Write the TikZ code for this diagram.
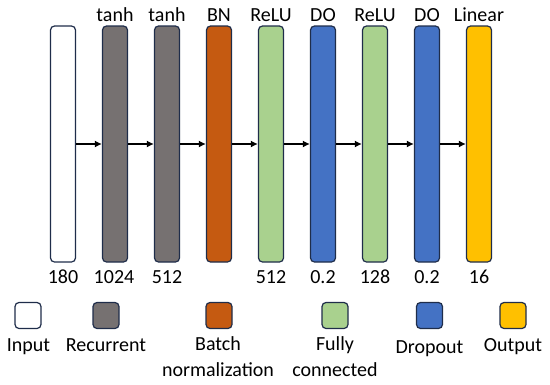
\documentclass[tikz,border=0pt]{standalone}
\usepackage{fontspec}
\setmainfont{Carlito}
\usetikzlibrary{arrows.meta,positioning}
\definecolor{edge}{HTML}{1F2D4A}
\definecolor{rec}{HTML}{767171}
\definecolor{bn}{HTML}{C55A11}
\definecolor{fc}{HTML}{A9D18E}
\definecolor{drop}{HTML}{4472C4}
\definecolor{outp}{HTML}{FFC000}
\begin{document}
\begin{tikzpicture}[
    x=1pt,y=-1pt,
    bar/.style={rectangle,draw=edge,rounded corners=4pt,line width=1.2pt,minimum width=25pt,minimum height=236pt,inner sep=0pt},
    key/.style={rectangle,draw=edge,rounded corners=4pt,line width=1.2pt,minimum width=26pt,minimum height=26pt,inner sep=0pt},
    lbl/.style={font=\fontsize{20}{22}\selectfont,inner sep=0pt,anchor=base},
    twoline/.style={font=\fontsize{20}{26}\selectfont,inner sep=0pt,align=center,anchor=north},
    arr/.style={-{Latex[length=7pt,width=7pt]},line width=1.8pt},
]
\useasboundingbox (0,0) rectangle (550,384);
% Layers
\node[bar,fill=white] (in) at (63,144) {};
\node[bar,fill=rec] (r1) at (115,144) {};
\node[bar,fill=rec] (r2) at (167,144) {};
\node[bar,fill=bn] (bn) at (219,144) {};
\node[bar,fill=fc] (f1) at (271,144) {};
\node[bar,fill=drop] (d1) at (323,144) {};
\node[bar,fill=fc] (f2) at (375,144) {};
\node[bar,fill=drop] (d2) at (427,144) {};
\node[bar,fill=outp] (out) at (479,144) {};

% Activations
\node[lbl] (ar1) at (115,21.5) {tanh};
\node[lbl] (ar2) at (167,21.5) {tanh};
\node[lbl] (abn) at (219,21.5) {BN};
\node[lbl] (af1) at (271,21.5) {ReLU};
\node[lbl] (ad1) at (323,21.5) {DO};
\node[lbl] (af2) at (375,21.5) {ReLU};
\node[lbl] (ad2) at (427,21.5) {DO};
\node[lbl] (aout) at (479,21.5) {Linear};

% Sizes
\node[lbl] (nin) at (63,283) {180};
\node[lbl] (nr1) at (114,283) {1024};
\node[lbl] (nr2) at (167,283) {512};
\node[lbl] (nf1) at (271,283) {512};
\node[lbl] (nd1) at (323,283) {0.2};
\node[lbl] (nf2) at (375,283) {128};
\node[lbl] (nd2) at (427,283) {0.2};
\node[lbl] (nout) at (479,283) {16};

% Legend
\node[key,fill=white] (kin) at (28,315.5) {};
\node[key,fill=rec] (krec) at (106,315.5) {};
\node[key,fill=bn] (kbn) at (219,315.5) {};
\node[key,fill=fc] (kfc) at (335,315.5) {};
\node[key,fill=drop] (kdrop) at (429.5,315.5) {};
\node[key,fill=outp] (kout) at (513,315.5) {};
\node[lbl] (tin) at (28.5,351) {Input};
\node[lbl] (trec) at (106,351) {Recurrent};
\node[twoline] (tbn) at (218,336) {Batch\\normalization};
\node[twoline] (tfc) at (335,336) {Fully\\connected};
\node[lbl] (tdrop) at (429.5,353) {Dropout};
\node[lbl] (tout) at (513,351) {Output};

% Arrows
\draw[arr] (in) -- (r1);
\draw[arr] (r1) -- (r2);
\draw[arr] (r2) -- (bn);
\draw[arr] (bn) -- (f1);
\draw[arr] (f1) -- (d1);
\draw[arr] (d1) -- (f2);
\draw[arr] (f2) -- (d2);
\draw[arr] (d2) -- (out);
\end{tikzpicture}
\end{document}
